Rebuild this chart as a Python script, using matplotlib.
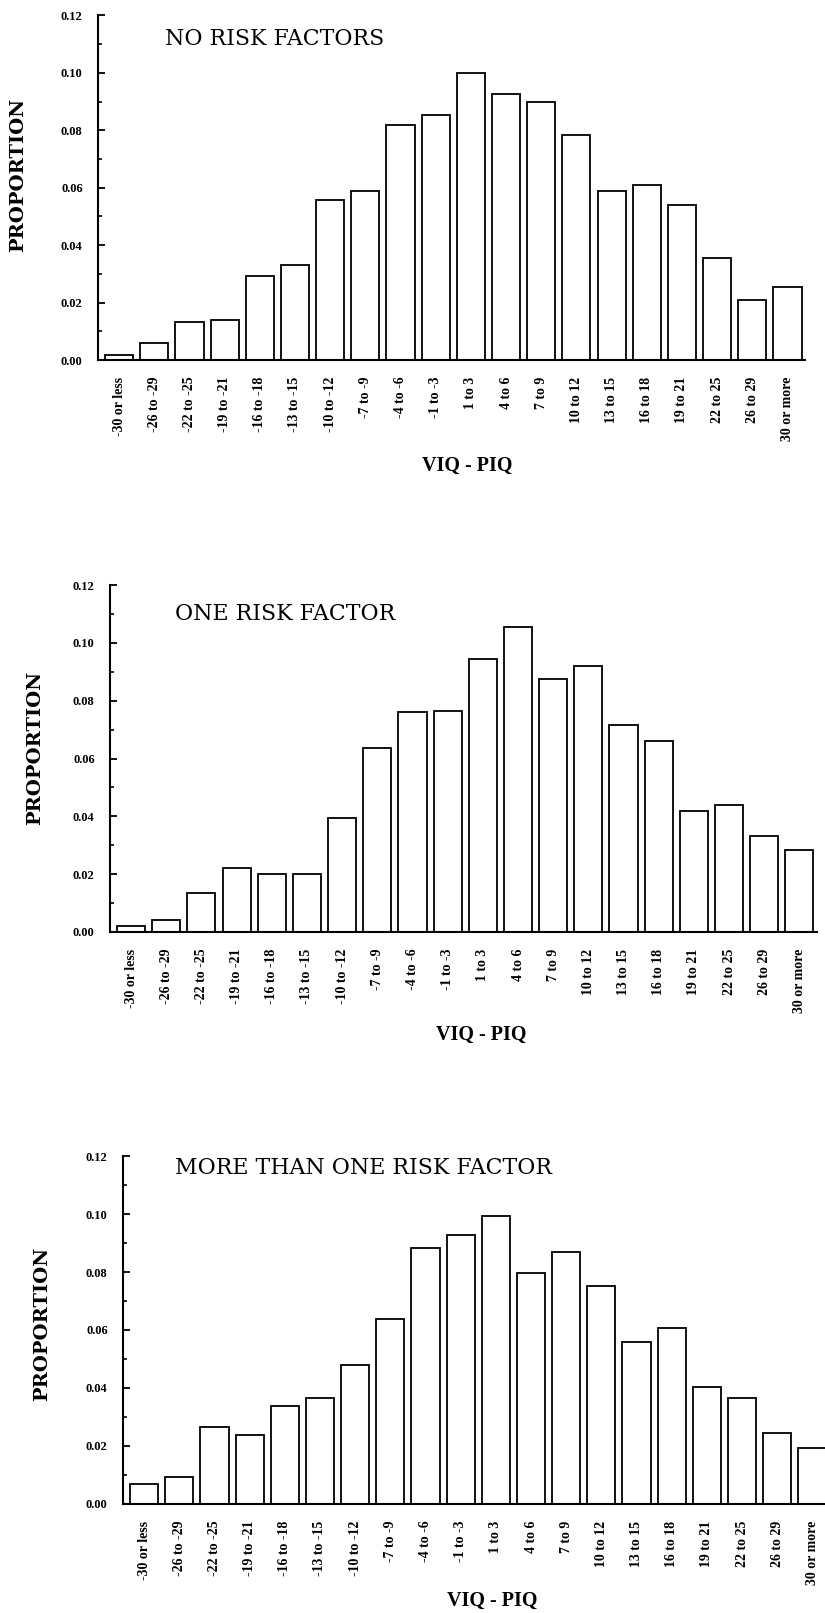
import numpy as np
import matplotlib
matplotlib.use("Agg")
import matplotlib.pyplot as plt

# bins of VIQ - PIQ difference
categories = ["-30 or less", "-26 to -29", "-22 to -25", "-19 to -21", "-16 to -18",
              "-13 to -15", "-10 to -12", "-7 to -9", "-4 to -6", "-1 to -3",
              "1 to 3", "4 to 6", "7 to 9", "10 to 12", "13 to 15",
              "16 to 18", "19 to 21", "22 to 25", "26 to 29", "30 or more"]

no_risk = [0.0017, 0.0058, 0.0133, 0.0141, 0.0292, 0.0330, 0.0557, 0.0590, 0.0817, 0.0855,
           0.1000, 0.0925, 0.0898, 0.0785, 0.0589, 0.0610, 0.0540, 0.0357, 0.0210, 0.0253]
one_risk = [0.0020, 0.0043, 0.0135, 0.0221, 0.0200, 0.0200, 0.0393, 0.0637, 0.0760, 0.0763,
            0.0944, 0.1056, 0.0876, 0.0921, 0.0717, 0.0662, 0.0419, 0.0440, 0.0331, 0.0283]
more_risk = [0.0068, 0.0093, 0.0267, 0.0238, 0.0338, 0.0364, 0.0480, 0.0637, 0.0884, 0.0928,
             0.0993, 0.0798, 0.0870, 0.0752, 0.0560, 0.0607, 0.0404, 0.0364, 0.0244, 0.0192]

titles = ["NO RISK FACTORS", "ONE RISK FACTOR", "MORE THAN ONE RISK FACTOR"]
series = [no_risk, one_risk, more_risk]

serif = ["Liberation Serif", "DejaVu Serif"]
wide_serif = ["DejaVu Serif"]

fig = plt.figure(figsize=(8.25, 16.13), dpi=100)

# axes rectangles (left, bottom, width, height) in figure fractions
rects = [[0.1188, 0.7768, 0.857, 0.2136],
         [0.1333, 0.4222, 0.857, 0.2151],
         [0.1491, 0.0676, 0.857, 0.2157]]
title_pos = [(0.095, 0.932), (0.092, 0.917), (0.074, 0.966)]
ylabel_pos = [(-0.100, 0.537), (-0.093, 0.53), (-0.102, 0.517)]
xlabel_pos = [(0.522, -0.277), (0.525, -0.268), (0.522, -0.25)]

x = np.arange(len(categories))
for i in range(3):
    ax = fig.add_axes(rects[i])
    ax.bar(x, series[i], width=0.8, color="white", edgecolor="black", linewidth=1.3)
    ax.set_xlim(-0.6, 19.5)
    ax.set_ylim(0, 0.12)
    ax.spines["top"].set_visible(False)
    ax.spines["right"].set_visible(False)
    ax.spines["left"].set_linewidth(1.5)
    ax.spines["bottom"].set_linewidth(1.5)
    ax.set_yticks(np.arange(0, 0.121, 0.02))
    ax.set_yticks(np.arange(0, 0.121, 0.01), minor=True)
    ax.set_yticklabels(["%.2f" % v for v in np.arange(0, 0.121, 0.02)],
                       family=serif, fontweight="bold", fontsize=9)
    ax.tick_params(axis="y", which="major", direction="in", length=5, width=1.3, pad=11)
    ax.tick_params(axis="y", which="minor", direction="in", length=3, width=1.2)
    ax.set_xticks(x)
    ax.set_xticklabels(categories, rotation=90, family=serif, fontweight="bold", fontsize=10)
    ax.tick_params(axis="x", length=0, pad=12)
    ax.text(title_pos[i][0], title_pos[i][1], titles[i], transform=ax.transAxes,
            family=wide_serif, fontsize=15.8, va="center", ha="left")
    ax.set_ylabel("PROPORTION", family=wide_serif, fontweight="bold", fontsize=14)
    ax.yaxis.set_label_coords(*ylabel_pos[i])
    ax.set_xlabel("VIQ - PIQ", family=serif, fontweight="bold", fontsize=14.5)
    ax.xaxis.set_label_coords(*xlabel_pos[i])

fig.savefig("out.png", dpi=100)
